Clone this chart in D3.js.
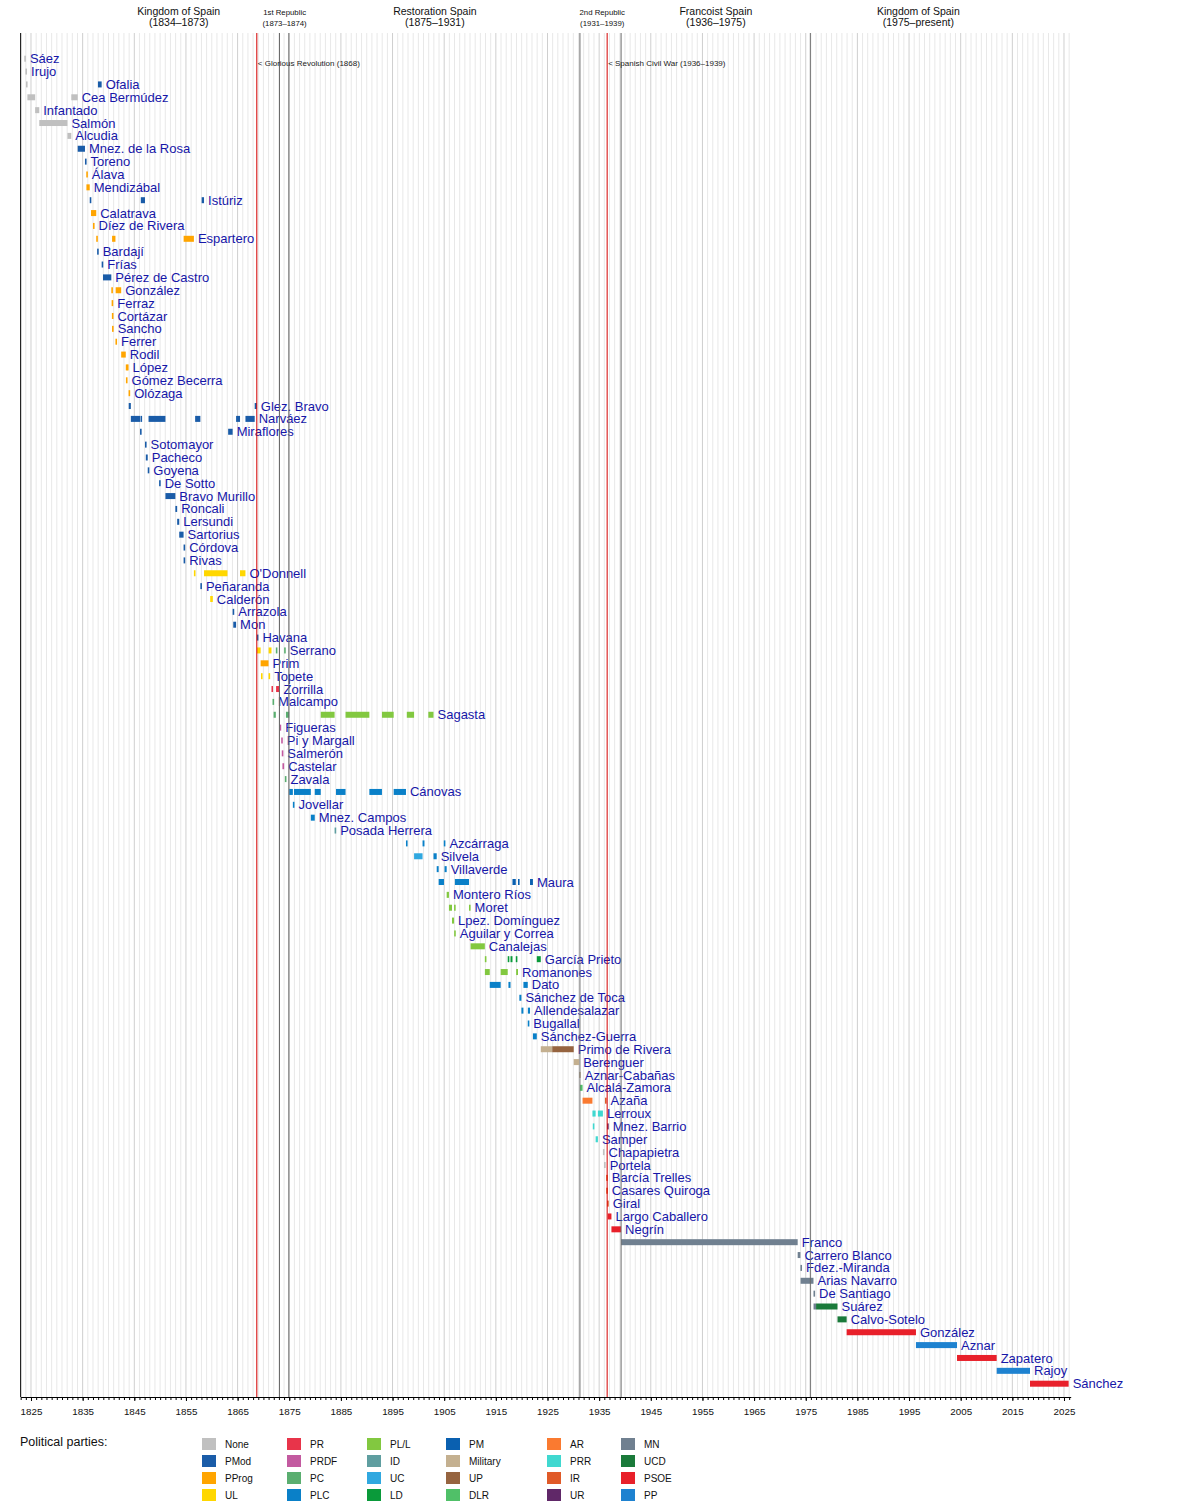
<!DOCTYPE html>
<html>
<head>
<meta charset="utf-8">
<script src="https://cdn.jsdelivr.net/npm/d3@7"></script>
<style>
body { margin: 0; background: #fff; }
svg text { font-family: "Liberation Sans", Arial, sans-serif; }
</style>
</head>
<body>
<div id="chart"></div>
<script>
// one row per prime minister, top to bottom
const ministers = [
  "Sáez", "Irujo", "Ofalia", "Cea Bermúdez", "Infantado", "Salmón", "Alcudia", "Mnez. de la Rosa",
  "Toreno", "Álava", "Mendizábal", "Istúriz", "Calatrava", "Díez de Rivera", "Espartero", "Bardají",
  "Frías", "Pérez de Castro", "González", "Ferraz", "Cortázar", "Sancho", "Ferrer", "Rodil",
  "López", "Gómez Becerra", "Olózaga", "Glez. Bravo", "Narváez", "Miraflores", "Sotomayor", "Pacheco",
  "Goyena", "De Sotto", "Bravo Murillo", "Roncali", "Lersundi", "Sartorius", "Córdova", "Rivas",
  "O'Donnell", "Peñaranda", "Calderón", "Arrazola", "Mon", "Havana", "Serrano", "Prim",
  "Topete", "Zorrilla", "Malcampo", "Sagasta", "Figueras", "Pi y Margall", "Salmerón", "Castelar",
  "Zavala", "Cánovas", "Jovellar", "Mnez. Campos", "Posada Herrera", "Azcárraga", "Silvela", "Villaverde",
  "Maura", "Montero Ríos", "Moret", "Lpez. Domínguez", "Aguilar y Correa", "Canalejas", "García Prieto", "Romanones",
  "Dato", "Sánchez de Toca", "Allendesalazar", "Bugallal", "Sánchez-Guerra", "Primo de Rivera", "Berenguer", "Aznar-Cabañas",
  "Alcalá-Zamora", "Azaña", "Lerroux", "Mnez. Barrio", "Samper", "Chapapietra", "Portela", "Barcía Trelles",
  "Casares Quiroga", "Giral", "Largo Caballero", "Negrín", "Franco", "Carrero Blanco", "Fdez.-Miranda", "Arias Navarro",
  "De Santiago", "Suárez", "Calvo-Sotelo", "González", "Aznar", "Zapatero", "Rajoy", "Sánchez"
];

// terms of each minister, same order: [from, to, party]
const terms = [
  [[1823.7, 1823.92, "None"]],
  [[1823.92, 1824.03, "None"]],
  [[1824.03, 1824.3, "None"], [1837.96, 1838.68, "PMod"]],
  [[1824.3, 1825.8, "None"], [1832.8, 1834.04, "None"]],
  [[1825.8, 1826.6, "None"]],
  [[1826.6, 1832.05, "None"]],
  [[1832.05, 1832.8, "None"]],
  [[1834.04, 1835.45, "PMod"]],
  [[1835.45, 1835.7, "PMod"]],
  [[1835.7, 1835.73, "PProg"]],
  [[1835.73, 1836.37, "PProg"]],
  [[1836.37, 1836.62, "PMod"], [1846.26, 1847.07, "PMod"], [1858.04, 1858.5, "PMod"]],
  [[1836.62, 1837.63, "PProg"]],
  [[1837.0, 1837.15, "PProg"]],
  [[1837.63, 1837.8, "PProg"], [1840.7, 1841.35, "PProg"], [1854.55, 1856.54, "PProg"]],
  [[1837.8, 1837.96, "PMod"]],
  [[1838.68, 1838.94, "PMod"]],
  [[1838.94, 1840.55, "PMod"]],
  [[1840.55, 1840.61, "PProg"], [1841.39, 1842.46, "PProg"]],
  [[1840.61, 1840.66, "PProg"]],
  [[1840.66, 1840.69, "PProg"]],
  [[1840.69, 1840.71, "PProg"]],
  [[1841.35, 1841.39, "PProg"]],
  [[1842.46, 1843.35, "PProg"]],
  [[1843.35, 1843.38, "PProg"], [1843.56, 1843.89, "PProg"]],
  [[1843.38, 1843.56, "PProg"]],
  [[1843.89, 1843.92, "PProg"]],
  [[1843.92, 1844.33, "PMod"], [1868.31, 1868.72, "PMod"]],
  [[1844.33, 1846.11, "PMod"], [1846.2, 1846.26, "PMod"], [1847.76, 1851.03, "PMod"], [1856.78, 1857.79, "PMod"], [1864.71, 1865.47, "PMod"], [1866.52, 1868.31, "PMod"]],
  [[1846.11, 1846.2, "PMod"], [1863.17, 1864.04, "PMod"]],
  [[1847.07, 1847.23, "PMod"]],
  [[1847.23, 1847.6, "PMod"]],
  [[1847.6, 1847.76, "PMod"]],
  [[1849.8, 1849.81, "PMod"]],
  [[1851.03, 1852.95, "PMod"]],
  [[1852.95, 1853.3, "PMod"]],
  [[1853.3, 1853.7, "PMod"]],
  [[1853.7, 1854.54, "PMod"]],
  [[1854.54, 1854.545, "PMod"]],
  [[1854.545, 1854.55, "PMod"]],
  [[1856.54, 1856.78, "UL"], [1858.5, 1863.04, "UL"], [1865.47, 1866.52, "UL"]],
  [[1857.79, 1858.04, "PMod"]],
  [[1859.7, 1860.2, "UL"]],
  [[1864.04, 1864.16, "PMod"]],
  [[1864.16, 1864.71, "PMod"]],
  [[1868.72, 1868.76, "PMod"]],
  [[1868.76, 1869.46, "UL"], [1871.01, 1871.56, "UL"], [1872.4, 1872.45, "PC"], [1874.01, 1874.15, "PC"]],
  [[1869.46, 1870.99, "PProg"]],
  [[1869.53, 1869.58, "UL"], [1870.99, 1871.01, "UL"]],
  [[1871.56, 1871.76, "PR"], [1872.45, 1873.11, "PR"]],
  [[1871.76, 1871.97, "PC"]],
  [[1871.97, 1872.4, "PC"], [1874.36, 1874.99, "PC"], [1881.1, 1883.78, "PL/L"], [1885.9, 1890.51, "PL/L"], [1892.95, 1895.22, "PL/L"], [1897.76, 1899.17, "PL/L"], [1901.93, 1902.93, "PL/L"]],
  [[1873.11, 1873.44, "PRDF"]],
  [[1873.44, 1873.55, "PRDF"]],
  [[1873.55, 1873.68, "PRDF"]],
  [[1873.68, 1874.01, "PRDF"]],
  [[1874.15, 1874.36, "PC"]],
  [[1874.99, 1875.7, "PLC"], [1875.92, 1879.18, "PLC"], [1879.94, 1881.1, "PLC"], [1884.05, 1885.9, "PLC"], [1890.51, 1892.95, "PLC"], [1895.22, 1897.6, "PLC"]],
  [[1875.7, 1875.92, "PLC"]],
  [[1879.18, 1879.94, "PLC"]],
  [[1883.78, 1884.05, "ID"]],
  [[1897.6, 1897.76, "PLC"], [1900.81, 1901.18, "PLC"], [1904.92, 1905.07, "PLC"]],
  [[1899.17, 1900.81, "UC"], [1902.93, 1903.55, "PLC"]],
  [[1903.55, 1903.93, "PLC"], [1905.07, 1905.48, "PLC"]],
  [[1903.93, 1904.96, "PLC"], [1907.07, 1909.8, "PLC"], [1918.22, 1918.86, "PM"], [1919.29, 1919.55, "PM"], [1921.62, 1922.18, "PM"]],
  [[1905.48, 1905.92, "PL/L"]],
  [[1905.92, 1906.51, "PL/L"], [1906.91, 1906.93, "PL/L"], [1909.8, 1910.11, "PL/L"]],
  [[1906.51, 1906.91, "PL/L"]],
  [[1906.93, 1907.07, "PL/L"]],
  [[1910.11, 1912.87, "PL/L"]],
  [[1912.87, 1912.88, "PL/L"], [1917.3, 1917.44, "LD"], [1917.84, 1918.22, "LD"], [1918.86, 1918.93, "LD"], [1922.93, 1923.7, "LD"]],
  [[1912.88, 1913.82, "PL/L"], [1915.94, 1917.3, "PL/L"], [1918.93, 1919.29, "PL/L"]],
  [[1913.82, 1915.94, "PLC"], [1917.44, 1917.84, "PLC"], [1920.34, 1921.18, "PLC"]],
  [[1919.55, 1919.95, "PLC"]],
  [[1919.95, 1920.34, "PLC"], [1921.2, 1921.62, "PLC"]],
  [[1921.18, 1921.2, "PLC"]],
  [[1922.18, 1922.93, "PLC"]],
  [[1923.7, 1925.92, "Military"], [1925.92, 1930.08, "UP"]],
  [[1930.08, 1931.13, "Military"]],
  [[1931.13, 1931.28, "Military"]],
  [[1931.28, 1931.79, "DLR"]],
  [[1931.79, 1933.7, "AR"], [1936.13, 1936.36, "IR"]],
  [[1933.7, 1933.77, "PRR"], [1933.96, 1934.32, "PRR"], [1934.76, 1935.73, "PRR"]],
  [[1933.77, 1933.96, "PRR"], [1936.54, 1936.55, "UR"]],
  [[1934.32, 1934.76, "PRR"]],
  [[1935.73, 1935.95, "None"]],
  [[1935.95, 1936.13, "None"]],
  [[1936.36, 1936.37, "IR"]],
  [[1936.37, 1936.54, "IR"]],
  [[1936.55, 1936.67, "IR"]],
  [[1936.67, 1937.38, "PSOE"]],
  [[1937.38, 1939.25, "PSOE"]],
  [[1939.25, 1973.44, "MN"]],
  [[1973.44, 1973.97, "MN"]],
  [[1973.97, 1974.0, "MN"]],
  [[1974.0, 1976.5, "MN"]],
  [[1976.5, 1976.51, "MN"]],
  [[1976.51, 1977.0, "MN"], [1977.0, 1981.15, "UCD"]],
  [[1981.15, 1982.92, "UCD"]],
  [[1982.92, 1996.34, "PSOE"]],
  [[1996.34, 2004.29, "PP"]],
  [[2004.29, 2011.97, "PSOE"]],
  [[2011.97, 2018.42, "PP"]],
  [[2018.42, 2025.9, "PSOE"]]
];

// legend order, read column by column
const parties = ["None", "PMod", "PProg", "UL", "PR", "PRDF", "PC", "PLC", "PL/L", "ID", "UC", "LD",
  "PM", "Military", "UP", "DLR", "AR", "PRR", "IR", "UR", "MN", "UCD", "PSOE", "PP"];
const partyColors = ["#c0c0c0", "#1a5ca8", "#ffa500", "#ffd700", "#e8344a", "#c35aa0", "#5aae70", "#0a80c8",
  "#82c840", "#5f9ea0", "#30a8e0", "#0a9a3a", "#0a60b0", "#c4b090", "#966440", "#50c068",
  "#fa7a30", "#40d8d0", "#e05a28", "#602868", "#708090", "#1a7a3a", "#e8202a", "#1e82d0"];

const eraNames = ["Kingdom of Spain", "1st Republic", "Restoration Spain", "2nd Republic", "Francoist Spain", "Kingdom of Spain"];
const eraDates = ["(1834–1873)", "(1873–1874)", "(1875–1931)", "(1931–1939)", "(1936–1975)", "(1975–present)"];
const eraMid = [1853.6, 1874.1, 1903.2, 1935.6, 1957.6, 1996.8];
const eraLines = [1873.11, 1874.92, 1931.28, 1939.25, 1975.89];

const eventNames = ["Glorious Revolution (1868)", "Spanish Civil War (1936–1939)"];
const eventYears = [1868.72, 1936.55];

const tickYears = [1825, 1835, 1845, 1855, 1865, 1875, 1885, 1895, 1905, 1915, 1925, 1935, 1945, 1955, 1965, 1975, 1985, 1995, 2005, 2015, 2025];


const width = 1200, height = 1510;
var plotTop = 33, plotBottom = 1397;
var barH = 6;

const svg = d3.select("#chart").append("svg")
    .attr("width", width)
    .attr("height", height);

const x = d3.scaleLinear()
    .domain([1823, 2026.3])
    .range([20.67, 1070.7]);

const y = d3.scalePoint()
    .domain(d3.range(ministers.length))
    .range([58.7, 58.7 + (ministers.length - 1) * 12.864]);

const color = d3.scaleOrdinal()
    .domain(parties)
    .range(partyColors);

//year grid
svg.append("g").selectAll("line")
    .data(d3.range(1823, 2027))
    .enter().append("line")
    .attr("x1", d => x(d)).attr("x2", d => x(d))
    .attr("y1", plotTop).attr("y2", plotBottom)
    .attr("stroke", d => (d - 1825) % 10 === 0 ? "#cfcfcf" : "#e8e8e8")
    .attr("stroke-width", 1);

//bars, one per term
var flat = [];
terms.forEach(function (list, i) {
    list.forEach(function (t) { flat.push({ row: i, from: t[0], to: t[1], party: t[2] }); });
});

svg.append("g").selectAll("rect")
    .data(flat)
    .enter().append("rect")
    .attr("x", d => x(d.from))
    .attr("y", d => y(d.row) - barH / 2)
    .attr("width", d => Math.max(x(d.to) - x(d.from), 1.6))
    .attr("height", barH)
    .attr("fill", d => color(d.party));

//names after the last term
svg.append("g").selectAll("text")
    .data(ministers)
    .enter().append("text")
    .attr("x", (d, i) => Math.max(x(d3.max(terms[i], t => t[1])), x(terms[i][terms[i].length - 1][0]) + 1.6) + 4)
    .attr("y", (d, i) => y(i))
    .attr("dy", "0.35em")
    .attr("font-size", 13)
    .attr("fill", "#1616a8")
    .text(d => d);

//era boundaries and events
svg.append("g").selectAll("line")
    .data(eraLines)
    .enter().append("line")
    .attr("x1", d => x(d)).attr("x2", d => x(d))
    .attr("y1", plotTop).attr("y2", plotBottom)
    .attr("stroke", "#6a6a6a")
    .attr("stroke-width", 1);

svg.append("g").selectAll("line")
    .data(eventYears)
    .enter().append("line")
    .attr("x1", d => x(d)).attr("x2", d => x(d))
    .attr("y1", plotTop).attr("y2", plotBottom)
    .attr("stroke", "#d40000")
    .attr("stroke-width", 1);

svg.append("g").selectAll("text")
    .data(eventNames)
    .enter().append("text")
    .attr("x", (d, i) => x(eventYears[i]) + 1)
    .attr("y", 66)
    .attr("font-size", 8)
    .attr("fill", "#222")
    .text(d => "< " + d);

//era headings, the two republics are narrow and get small type
var head = svg.append("g").selectAll("g")
    .data(eraNames)
    .enter().append("g");

head.append("text")
    .attr("x", (d, i) => x(eraMid[i]))
    .attr("y", d => d.indexOf("Republic") > 0 ? 15 : 14.5)
    .attr("text-anchor", "middle")
    .attr("font-size", d => d.indexOf("Republic") > 0 ? 7.8 : 10.5)
    .attr("fill", "#111")
    .text(d => d);

head.append("text")
    .attr("x", (d, i) => x(eraMid[i]))
    .attr("y", d => d.indexOf("Republic") > 0 ? 25.5 : 26)
    .attr("text-anchor", "middle")
    .attr("font-size", d => d.indexOf("Republic") > 0 ? 7.8 : 10.5)
    .attr("fill", "#111")
    .text((d, i) => eraDates[i]);

//left frame
svg.append("line")
    .attr("x1", x(1823)).attr("x2", x(1823))
    .attr("y1", plotTop).attr("y2", plotBottom)
    .attr("stroke", "#000");

//time axis
var axisG = svg.append("g")
    .attr("transform", "translate(0," + plotBottom + ")");

axisG.append("g")
    .call(d3.axisBottom(x).tickValues(d3.range(1823, 2027)).tickFormat("").tickSize(3).tickSizeOuter(0))
    .call(g => g.select(".domain").remove());

axisG.append("g")
    .call(d3.axisBottom(x).tickValues(tickYears).tickFormat(d3.format("d")).tickSize(4).tickSizeOuter(0).tickPadding(7))
    .call(g => g.selectAll("text").attr("font-size", 9.8).attr("fill", "#111").style("font-family", "'Liberation Sans', Arial, sans-serif"));

//legend
svg.append("text")
    .attr("x", 20)
    .attr("y", 1446)
    .attr("font-size", 12.5)
    .attr("fill", "#111")
    .text("Political parties:");

var legendCols = [202, 287, 367, 446, 547, 621];
var legend = svg.append("g").selectAll("g")
    .data(parties)
    .enter().append("g")
    .attr("transform", (d, i) => "translate(" + legendCols[Math.floor(i / 4)] + "," + (1438 + (i % 4) * 17) + ")");

legend.append("rect")
    .attr("width", 14)
    .attr("height", 12)
    .attr("fill", d => color(d));

legend.append("text")
    .attr("x", 23)
    .attr("y", 6)
    .attr("dy", "0.35em")
    .attr("font-size", 10)
    .attr("fill", "#111")
    .text(d => d);
</script>
</body>
</html>
